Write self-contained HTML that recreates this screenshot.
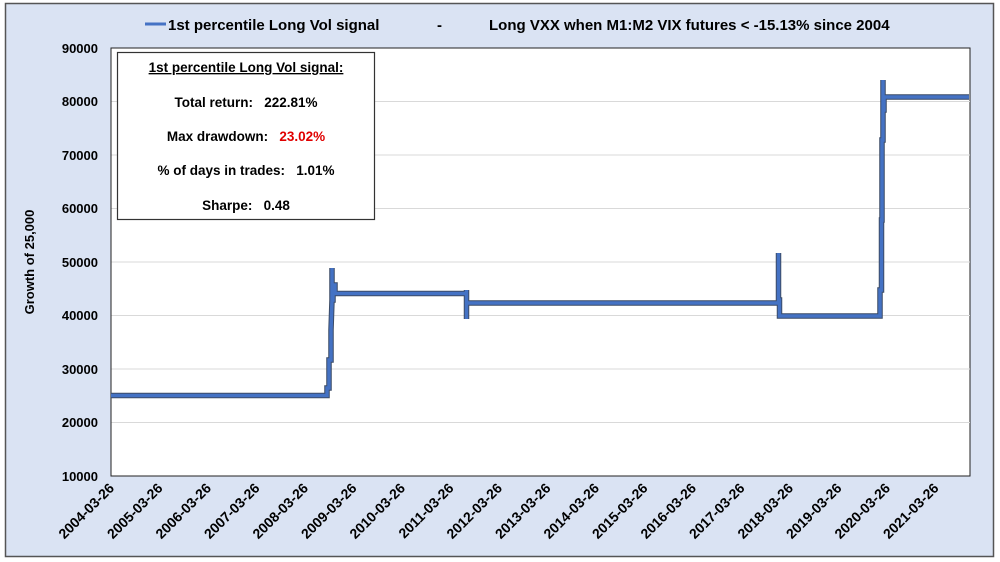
<!DOCTYPE html>
<html><head><meta charset="utf-8"><style>
html,body{margin:0;padding:0;background:#fff;}
svg{display:block;font-family:"Liberation Sans",Arial,sans-serif;font-weight:bold;}
</style></head><body>
<svg width="1000" height="562" viewBox="0 0 1000 562" xmlns="http://www.w3.org/2000/svg">
<rect x="0" y="0" width="1000" height="562" fill="#fff"/>
<rect x="5.5" y="3.5" width="988" height="553" fill="#dae3f3" stroke="#555" stroke-width="1.5"/>
<rect x="111" y="48" width="859" height="428" fill="#fff" stroke="#222" stroke-width="1"/>
<g stroke="#d9d9d9" stroke-width="1">
<line x1="111" x2="970" y1="101.5" y2="101.5"/>
<line x1="111" x2="970" y1="155" y2="155"/>
<line x1="111" x2="970" y1="208.5" y2="208.5"/>
<line x1="111" x2="970" y1="262" y2="262"/>
<line x1="111" x2="970" y1="315.5" y2="315.5"/>
<line x1="111" x2="970" y1="369" y2="369"/>
<line x1="111" x2="970" y1="422.5" y2="422.5"/>
</g>
<line x1="111" x2="111" y1="48" y2="476" stroke="#222"/>
<g font-size="13" text-anchor="end" fill="#000">
<text x="98" y="53">90000</text>
<text x="98" y="106">80000</text>
<text x="98" y="160">70000</text>
<text x="98" y="213">60000</text>
<text x="98" y="267">50000</text>
<text x="98" y="320">40000</text>
<text x="98" y="374">30000</text>
<text x="98" y="427">20000</text>
<text x="98" y="481">10000</text>
</g>
<text transform="translate(34,262) rotate(-90)" font-size="13" text-anchor="middle">Growth of 25,000</text>
<g font-size="14" text-anchor="end">
<text transform="translate(115,489) rotate(-45)">2004-03-26</text>
<text transform="translate(163.5,489) rotate(-45)">2005-03-26</text>
<text transform="translate(212,489) rotate(-45)">2006-03-26</text>
<text transform="translate(260.5,489) rotate(-45)">2007-03-26</text>
<text transform="translate(309,489) rotate(-45)">2008-03-26</text>
<text transform="translate(357.5,489) rotate(-45)">2009-03-26</text>
<text transform="translate(406,489) rotate(-45)">2010-03-26</text>
<text transform="translate(454.5,489) rotate(-45)">2011-03-26</text>
<text transform="translate(503,489) rotate(-45)">2012-03-26</text>
<text transform="translate(551.5,489) rotate(-45)">2013-03-26</text>
<text transform="translate(600,489) rotate(-45)">2014-03-26</text>
<text transform="translate(648.5,489) rotate(-45)">2015-03-26</text>
<text transform="translate(697,489) rotate(-45)">2016-03-26</text>
<text transform="translate(745.5,489) rotate(-45)">2017-03-26</text>
<text transform="translate(794,489) rotate(-45)">2018-03-26</text>
<text transform="translate(842.5,489) rotate(-45)">2019-03-26</text>
<text transform="translate(891,489) rotate(-45)">2020-03-26</text>
<text transform="translate(939.5,489) rotate(-45)">2021-03-26</text>
</g>
<g fill="none" stroke-linejoin="miter">
<path d="M111,395.5 H327 V388 H329 V360 H331 V330 L332,300 V268 M332,300 H333 V285 H335 V293.5 H466.5 V290 V319 V303 H778.5 V253 V300 H779.5 V316 H880 V290 H881.5 V220 H882 V140 H883 V80 V110 H884 V97 H969" stroke="#3b4b66" stroke-width="5.5"/>
<path d="M111,395.5 H327 V388 H329 V360 H331 V330 L332,300 V268 M332,300 H333 V285 H335 V293.5 H466.5 V290 V319 V303 H778.5 V253 V300 H779.5 V316 H880 V290 H881.5 V220 H882 V140 H883 V80 V110 H884 V97 H969" stroke="#4472c4" stroke-width="3.5"/>
</g>
<rect x="117.5" y="52.5" width="257" height="167" fill="#fff" stroke="#333" stroke-width="1.2"/>
<g font-size="13.5" text-anchor="middle">
<text x="246" y="72" text-decoration="underline">1st percentile Long Vol signal:</text>
<text x="246" y="107" xml:space="preserve">Total return:   222.81%</text>
<text x="246" y="141" xml:space="preserve">Max drawdown:   <tspan fill="#e00000">23.02%</tspan></text>
<text x="246" y="175" xml:space="preserve">% of days in trades:   1.01%</text>
<text x="246" y="210" xml:space="preserve">Sharpe:   0.48</text>
</g>
<line x1="145" x2="166" y1="24" y2="24" stroke="#4472c4" stroke-width="3"/>
<g font-size="15">
<text x="168" y="30">1st percentile Long Vol signal</text>
<text x="437" y="30">-</text>
<text x="489" y="30">Long VXX when M1:M2 VIX futures &lt; -15.13% since 2004</text>
</g>
</svg>
</body></html>
